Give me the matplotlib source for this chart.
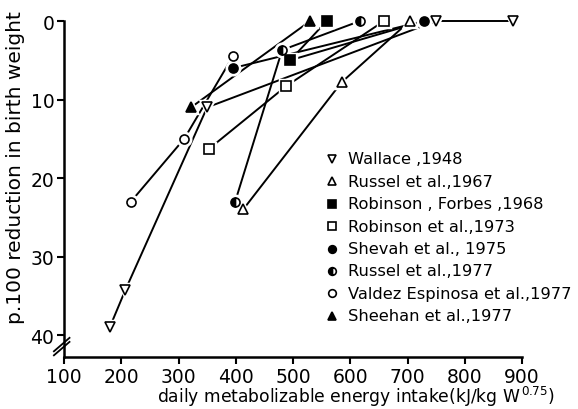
import matplotlib
matplotlib.use("Agg")
import matplotlib.pyplot as plt
from matplotlib.lines import Line2D

# ---- data (x: daily ME intake, y: % reduction in birth weight) ----
wallace_x = [180, 207, 350, 750, 885]
wallace_y = [39, 34.3, 11, 0, 0]
russel67_x = [413, 585, 704]
russel67_y = [24, 7.8, 0]
robforbes_x = [495, 559]
robforbes_y = [5, 0]
robforbes_extra_x = [495, 729]
robforbes_extra_y = [5, 0]
rob73_x = [353, 488, 659]
rob73_y = [16.3, 8.3, 0]
shevah_x = [395, 729]
shevah_y = [6, 0]
russel77_x = [399, 481, 617]
russel77_y = [23, 3.7, 0]
valdez_x = [217, 310, 395]
valdez_y = [23, 15, 4.5]
sheehan_x = [322, 530]
sheehan_y = [11, 0]

labels = ["Wallace ,1948", "Russel et al.,1967", "Robinson , Forbes ,1968",
          "Robinson et al.,1973", "Shevah et al., 1975", "Russel et al.,1977",
          "Valdez Espinosa et al.,1977", "Sheehan et al.,1977"]
xticks = [100, 200, 300, 400, 500, 600, 700, 800, 900]
yticks = [0, 10, 20, 30, 40]

# marker styles: (marker, fill)
styles = [("v", "none"), ("^", "none"), ("s", "full"), ("s", "none"),
          ("o", "full"), ("o", "left"), ("o", "none"), ("^", "full")]
series = [(wallace_x, wallace_y), (russel67_x, russel67_y),
          (robforbes_x, robforbes_y), (rob73_x, rob73_y),
          (shevah_x, shevah_y), (russel77_x, russel77_y),
          (valdez_x, valdez_y), (sheehan_x, sheehan_y)]

W, H = 578, 410
fig = plt.figure(figsize=(W / 100, H / 100), dpi=100)
ax = fig.add_axes([64 / W, 1 - 358 / H, (522 - 64) / W, (358 - 22) / H])

lw = 1.4
# lines first
for (xs, ys) in series:
    ax.plot(xs, ys, color="black", lw=lw, solid_capstyle="butt", zorder=2, clip_on=False)
ax.plot(robforbes_extra_x, robforbes_extra_y, color="black", lw=lw, zorder=2, clip_on=False)


def mk_kwargs(marker, fill, ms):
    kw = dict(marker=marker, markersize=ms, markeredgecolor="black",
              markeredgewidth=1.2, linestyle="none")
    if fill == "full":
        kw.update(markerfacecolor="black")
    elif fill == "none":
        kw.update(markerfacecolor="white")
    else:
        kw.update(fillstyle="left", markerfacecolor="black", markerfacecoloralt="white")
    return kw


# markers with white halo to create gaps
for (xs, ys), (m, f) in zip(series, styles):
    ax.plot(xs, ys, marker=m, markersize=9, markerfacecolor="white",
            markeredgecolor="white", markeredgewidth=2.5, linestyle="none",
            zorder=3, clip_on=False)
for (xs, ys), (m, f) in zip(series, styles):
    ax.plot(xs, ys, zorder=4, clip_on=False, **mk_kwargs(m, f, 6.5))

ax.set_xlim(100, 900)
ax.set_ylim(42.8, 0)
ax.set_xticks(xticks)
ax.set_yticks(yticks)
ax.set_xticklabels([str(v) for v in xticks])
ax.set_yticklabels([str(v) for v in yticks])
for s in ["top", "right"]:
    ax.spines[s].set_visible(False)
for s in ["left", "bottom"]:
    ax.spines[s].set_linewidth(1.8)
ax.tick_params(direction="out", length=5, width=1.5, labelsize=13.5, pad=2)

# axis break marks
for dy in (0.0, 0.012):
    ax.plot([-0.022, 0.012], [0.025 + dy - 0.02, 0.025 + dy + 0.02],
            transform=ax.transAxes, color="black", lw=1.3, clip_on=False)

fig.text(356 / W, 1 - 397 / H,
         r"daily metabolizable energy intake(kJ/kg W$^{\,0.75}$)",
         ha="center", va="center", fontsize=12.3)
fig.text(16 / W, 1 - 168 / H, "p.100 reduction in birth weight",
         ha="center", va="center", rotation=90, fontsize=14.5)

# legend
for i, (lab, (m, f)) in enumerate(zip(labels, styles)):
    yp = 1 - (160 + 22.4 * i) / H
    fig.add_artist(Line2D([332 / W], [yp], transform=fig.transFigure,
                          **mk_kwargs(m, f, 5.5)))
    fig.text(348 / W, yp, lab, ha="left", va="center", fontsize=11.7)

fig.savefig("out.png", dpi=100)
